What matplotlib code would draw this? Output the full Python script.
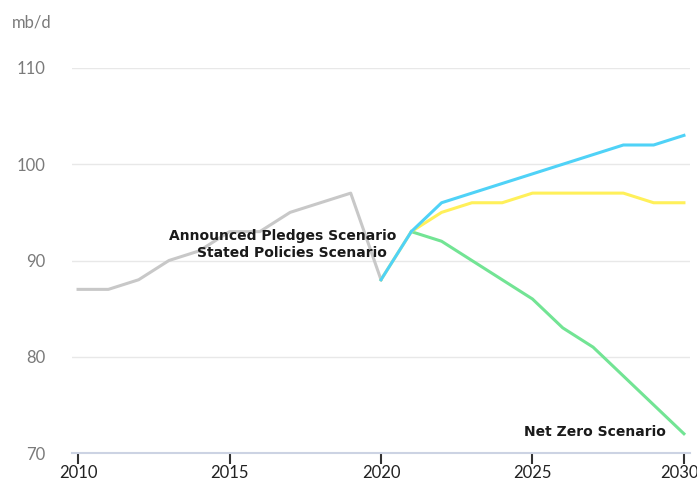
import matplotlib.pyplot as plt
from matplotlib.transforms import ScaledTranslation

plt.rcParams['font.family'] = ['Lato', 'DejaVu Sans']

# Data (mb/d)
hist_years = list(range(2010, 2021))
hist_vals = [87, 87, 88, 90, 91, 93, 93, 95, 96, 97, 88]

proj_years = list(range(2020, 2031))
aps_vals = [88, 93, 96, 97, 98, 99, 100, 101, 102, 102, 103]
steps_vals = [88, 93, 95, 96, 96, 97, 97, 97, 97, 96, 96]

nze_years = list(range(2021, 2031))
nze_vals = [93, 92, 90, 88, 86, 83, 81, 78, 75, 72]

x_ticks = [2010, 2015, 2020, 2025, 2030]
y_ticks = [70, 80, 90, 100, 110]

fig = plt.figure(figsize=(6.97, 4.8), dpi=100)
ax = fig.add_axes([72 / 697, 1 - 453 / 480, 618 / 697, 385 / 480])

ax.plot(hist_years, hist_vals, color='#c8c8c8', lw=2.2, clip_on=False)
ax.plot(nze_years, nze_vals, color='#72e494', lw=2.2, clip_on=False)
ax.plot(proj_years, steps_vals, color='#fff05a', lw=2.2, clip_on=False)
ax.plot(proj_years, aps_vals, color='#4fd2f7', lw=2.2, clip_on=False)

ax.set_xlim(2009.8, 2030.2)
ax.set_ylim(70, 110)
ax.set_xticks(x_ticks)
ax.set_yticks(y_ticks)

ax.grid(axis='y', color='#e8e8e8', lw=1)
ax.set_axisbelow(True)
for s in ['top', 'right', 'left']:
    ax.spines[s].set_visible(False)
ax.spines['bottom'].set_color('#ccd3e3')
ax.spines['bottom'].set_linewidth(1.5)

ax.tick_params(axis='y', length=0, pad=19, labelsize=12, labelcolor='#7a7a7a')
ax.tick_params(axis='x', length=8, width=1.5, color='#333333', pad=1,
               labelsize=12, labelcolor='#222222')

# last year label sits against the right edge, nudge it in a little
last = ax.get_xticklabels()[-1]
last.set_transform(last.get_transform() + ScaledTranslation(-5 / 100, 0, fig.dpi_scale_trans))

fig.text(12 / 697, 1 - 22 / 480, 'mb/d', fontsize=12, color='#7a7a7a', va='center')

bold = ['DejaVu Sans']
ax.text(2020.5, 92.5, 'Announced Pledges Scenario', ha='right', va='center',
        fontsize=10, fontweight='bold', color='#1a1a1a', family=bold)
ax.text(2020.2, 90.8, 'Stated Policies Scenario', ha='right', va='center',
        fontsize=10, fontweight='bold', color='#1a1a1a', family=bold)
ax.text(2029.4, 72.2, 'Net Zero Scenario', ha='right', va='center',
        fontsize=10, fontweight='bold', color='#1a1a1a', family=bold)

fig.savefig('out.png', dpi=100)
